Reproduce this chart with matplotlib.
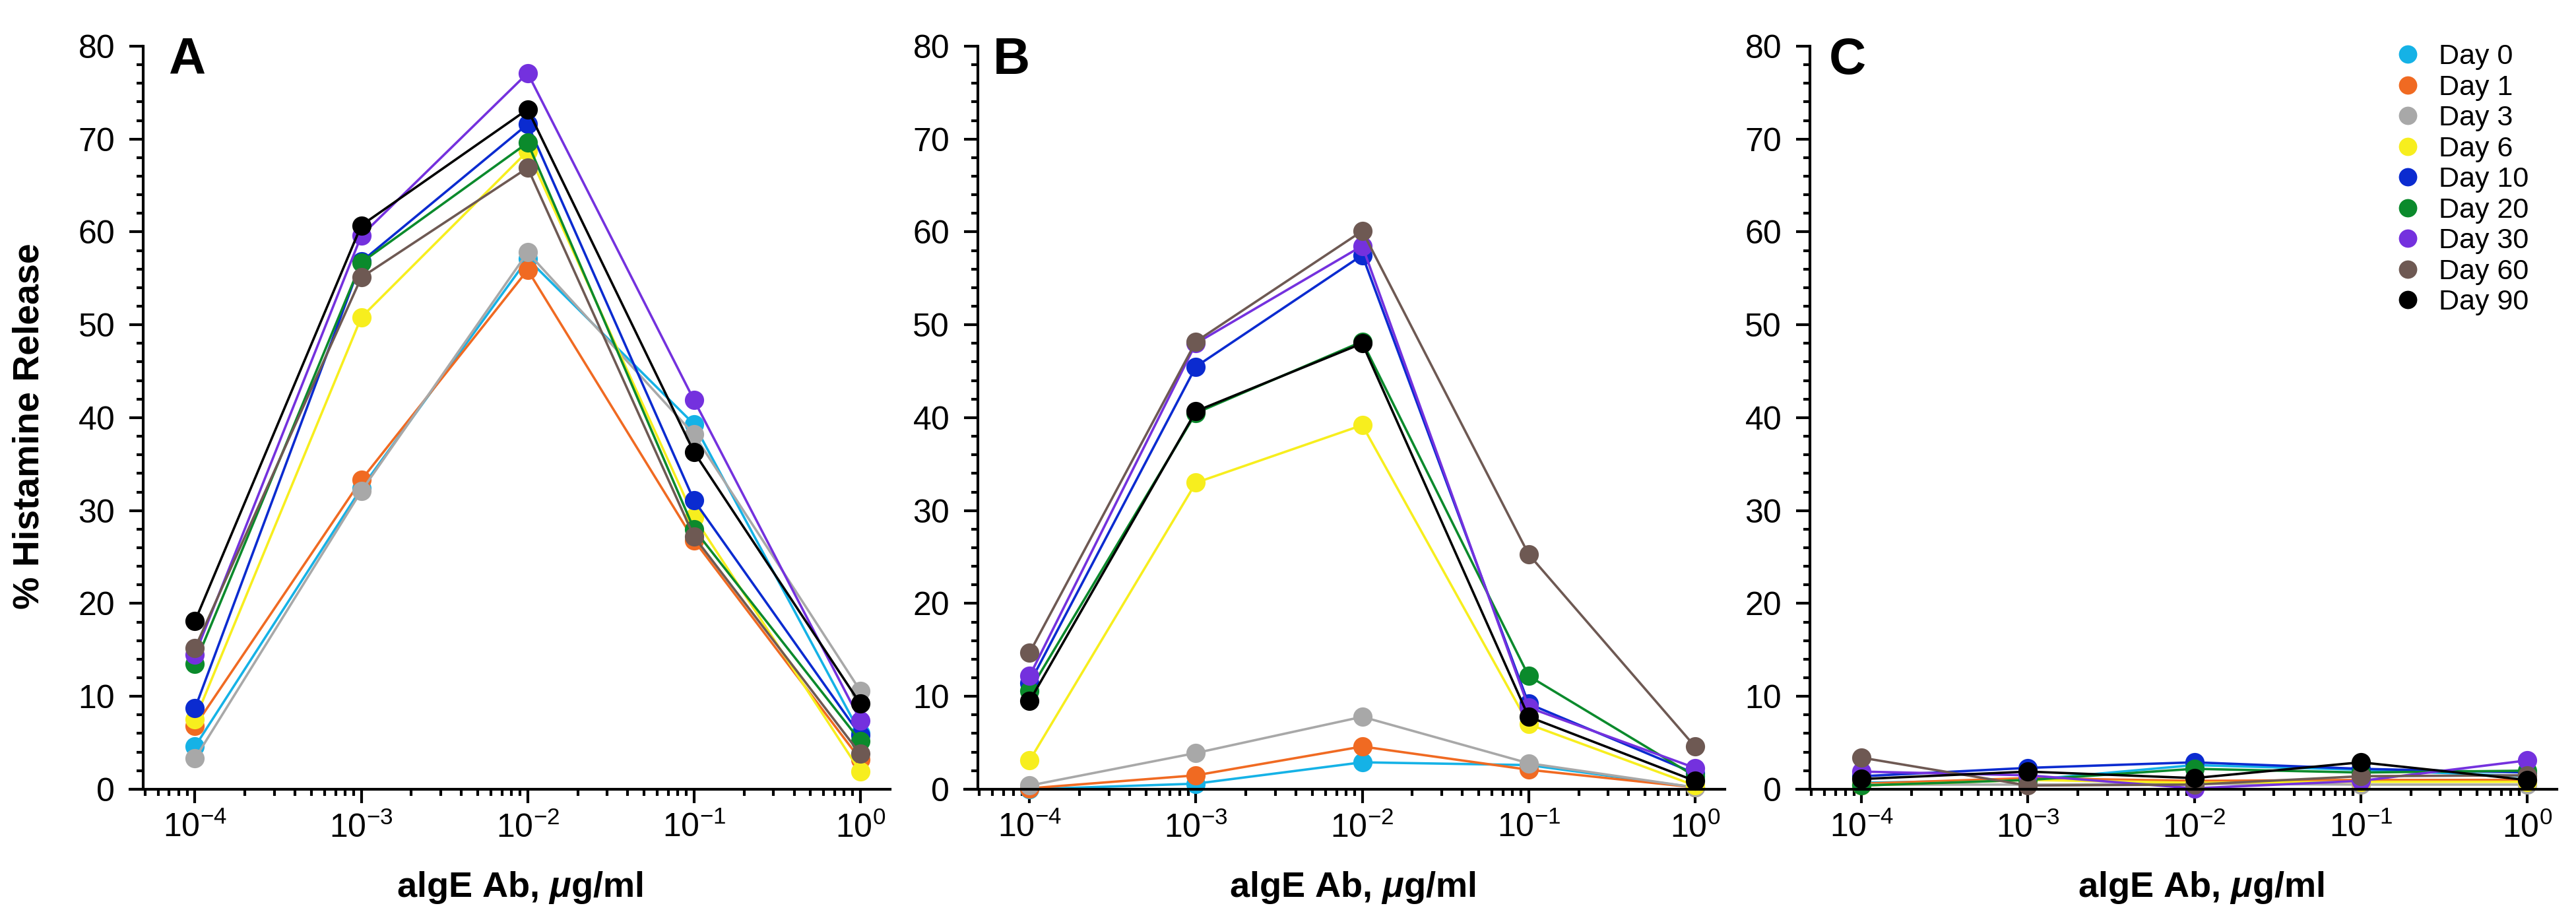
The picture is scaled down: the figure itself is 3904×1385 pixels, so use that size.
import matplotlib
matplotlib.use('Agg')
import matplotlib.pyplot as plt
from matplotlib.lines import Line2D
from matplotlib.ticker import LogLocator, NullFormatter, LogFormatterMathtext, MultipleLocator
import numpy as np

plt.rcParams['font.family'] = ['Liberation Sans', 'DejaVu Sans']
plt.rcParams['mathtext.fontset'] = 'custom'
plt.rcParams['mathtext.rm'] = 'Liberation Sans'
plt.rcParams['mathtext.it'] = 'Liberation Sans:italic:bold'
plt.rcParams['mathtext.bf'] = 'Liberation Sans:bold'
plt.rcParams['mathtext.default'] = 'regular'

# concentrations (ug/ml) and series
conc = [1e-4, 1e-3, 1e-2, 1e-1, 1e0]
days = ['Day 0', 'Day 1', 'Day 3', 'Day 6', 'Day 10', 'Day 20', 'Day 30', 'Day 60', 'Day 90']
colors = ['#15B2E6', '#F06A22', '#A8A8A8', '#F7EE1E', '#0B2BD0',
          '#0B8A2C', '#7431DE', '#6E5953', '#000000']

# % histamine release, one row per day
panel_a = [
    [4.6, 32.4, 57.1, 39.3, 6.0],
    [6.8, 33.3, 55.9, 26.8, 3.2],
    [3.3, 32.1, 57.8, 38.2, 10.6],
    [7.5, 50.8, 68.7, 29.3, 1.9],
    [8.7, 56.8, 71.6, 31.1, 5.8],
    [13.5, 56.7, 69.6, 28.0, 5.2],
    [14.5, 59.6, 77.1, 41.9, 7.4],
    [15.2, 55.1, 66.9, 27.2, 3.8],
    [18.1, 60.7, 73.2, 36.3, 9.2],
]
panel_b = [
    [0.0, 0.6, 2.9, 2.6, 0.2],
    [0.1, 1.5, 4.6, 2.1, 0.2],
    [0.4, 3.9, 7.8, 2.8, 0.2],
    [3.1, 33.0, 39.2, 7.0, 0.4],
    [11.4, 45.5, 57.5, 9.2, 1.7],
    [10.6, 40.5, 48.2, 12.2, 1.4],
    [12.2, 48.0, 58.5, 8.8, 2.3],
    [14.7, 48.2, 60.1, 25.3, 4.6],
    [9.5, 40.7, 48.0, 7.8, 0.9],
]
panel_c = [
    [0.7, 1.0, 2.6, 2.1, 1.4],
    [0.6, 1.2, 0.9, 1.0, 1.0],
    [0.5, 0.5, 0.6, 0.5, 0.5],
    [0.4, 1.0, 0.7, 0.8, 0.8],
    [1.4, 2.3, 2.9, 2.2, 1.8],
    [0.4, 1.0, 2.2, 1.8, 2.0],
    [1.9, 1.5, 0.1, 0.9, 3.1],
    [3.4, 0.4, 0.5, 1.4, 1.5],
    [1.1, 1.9, 1.2, 2.9, 1.0],
]
panels = [('A', panel_a), ('B', panel_b), ('C', panel_c)]

fig = plt.figure(figsize=(39.04, 13.85), dpi=100)
lefts = [0.0505, 0.3745, 0.6975]
letter_x = [0.075, 0.061, 0.067]
xlabel_x = [0.513, 0.51, 0.532]
width, bottom, height = 0.2951, 0.1365, 0.813

for i, (letter, data) in enumerate(panels):
    ax = fig.add_axes([lefts[i], bottom, width, height])
    for vals, c in zip(data, colors):
        ax.plot(conc, vals, '-o', color=c, lw=2.6, markersize=21,
                markeredgewidth=0, clip_on=False)
    ax.set_xscale('log')
    ax.set_xlim(10 ** -4.39, 10 ** 0.18)
    ax.set_ylim(0, 80)
    ax.spines['top'].set_visible(False)
    ax.spines['right'].set_visible(False)
    ax.spines['left'].set_position(('data', 10 ** -4.31))
    for s in ['left', 'bottom']:
        ax.spines[s].set_linewidth(3)
    ax.xaxis.set_major_locator(LogLocator(base=10, numticks=10))
    ax.xaxis.set_major_formatter(LogFormatterMathtext())
    ax.xaxis.set_minor_locator(LogLocator(base=10, subs=np.arange(2, 10), numticks=20))
    ax.xaxis.set_minor_formatter(NullFormatter())
    ax.yaxis.set_major_locator(MultipleLocator(10))
    ax.yaxis.set_minor_locator(MultipleLocator(2))
    ax.tick_params(which='major', direction='out', length=15, width=3, labelsize=36)
    ax.tick_params(which='minor', direction='out', length=7, width=3)
    ax.tick_params(axis='y', which='major', pad=16)
    ax.tick_params(axis='x', which='major', pad=10)
    ax.set_xlabel(r'algE Ab, $\mathit{\mu}$g/ml', fontsize=39, fontweight='bold')
    ax.xaxis.set_label_coords(xlabel_x[i], -0.108)
    ax.text(letter_x[i], 0.981, letter, transform=ax.transAxes, fontsize=56,
            fontweight='bold', ha='center', va='center')

fig.text(0.0113, 0.534, '% Histamine Release', rotation=90, fontsize=40,
         fontweight='bold', ha='center', va='center')

handles = [Line2D([], [], marker='o', ls='none', color=c, markersize=20,
                  markeredgewidth=0) for c in colors]
fig.legend(handles, days, loc='upper left', bbox_to_anchor=(0.9292, 0.952),
           frameon=False, fontsize=31, handlelength=1.0, handletextpad=0.6,
           labelspacing=0.15, borderpad=0, borderaxespad=0)

fig.savefig('out.png', dpi=100)
